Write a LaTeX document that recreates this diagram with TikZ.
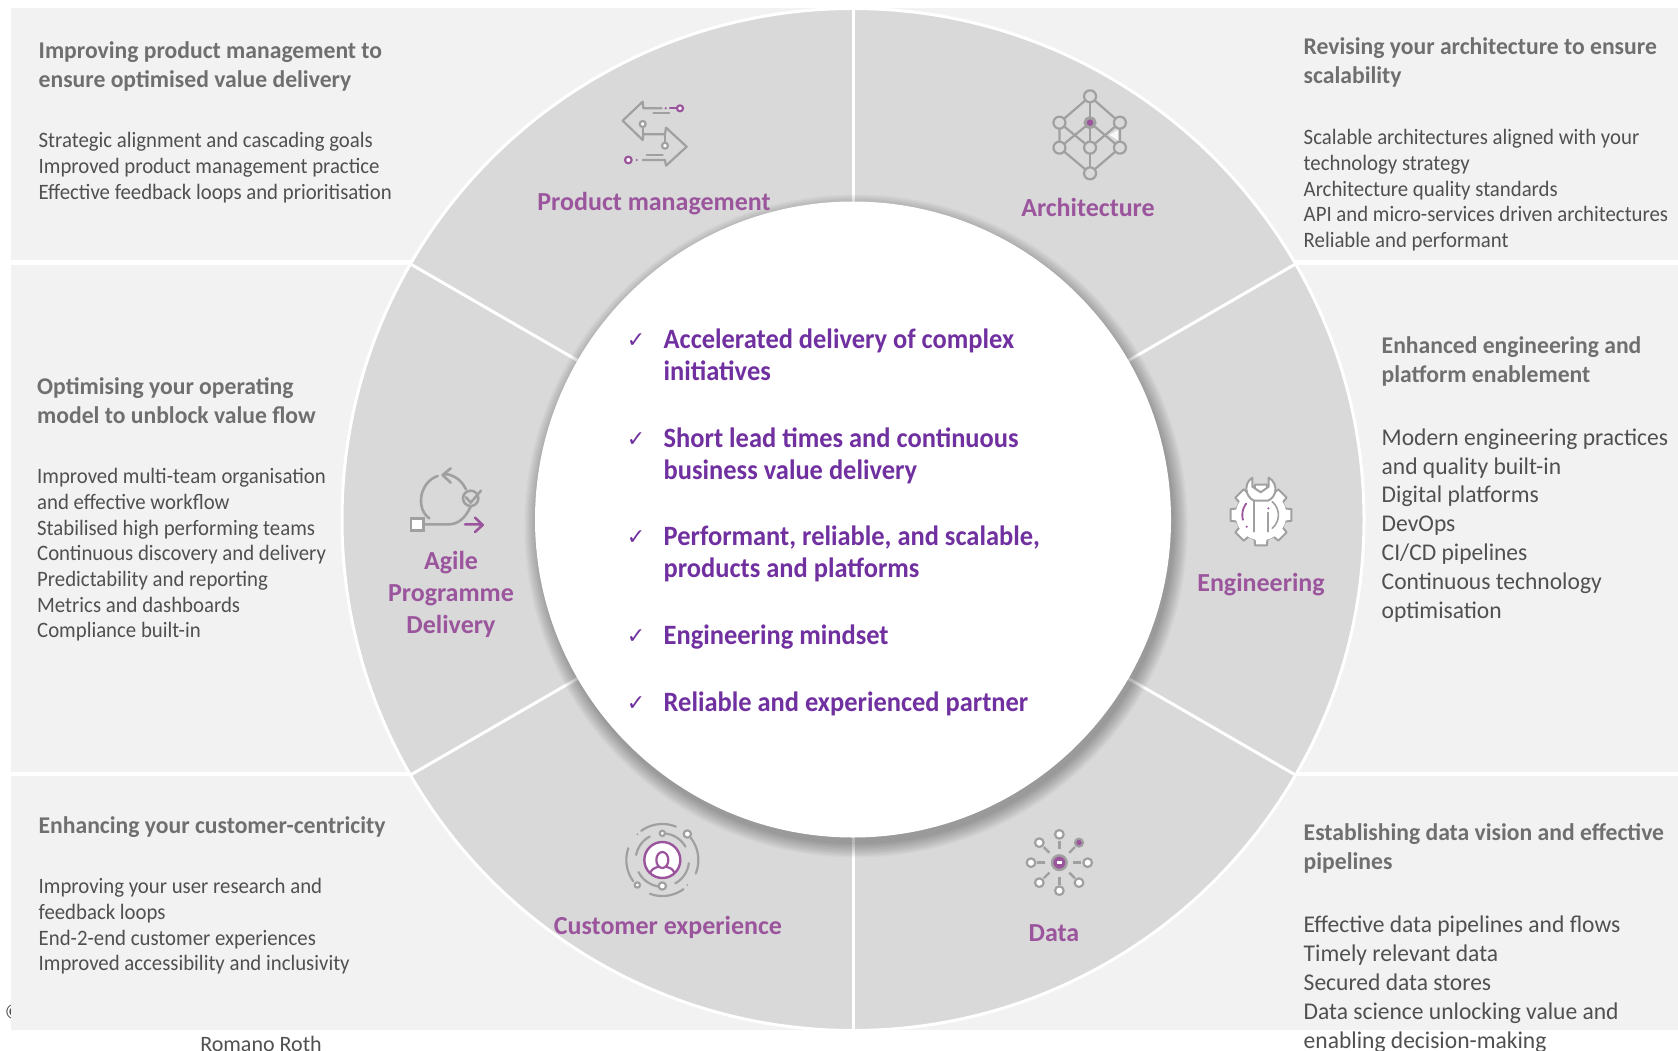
\documentclass[tikz,border=0pt]{standalone}
\usepackage{fontspec}
\setmainfont{Carlito}
\newfontfamily\dejavu{DejaVu Sans}
\newfontfamily\fbody[FakeStretch=0.945]{Carlito}
\newfontfamily\fbig[FakeStretch=0.98]{Carlito}
\newfontfamily\fhead[FakeStretch=0.985]{Carlito}
\newfontfamily\fcent[FakeStretch=0.945]{Carlito}
\definecolor{panel}{HTML}{F2F2F2}
\definecolor{ringc}{HTML}{D9D9D9}
\definecolor{headc}{HTML}{6F6F6F}
\definecolor{bodyc}{HTML}{505050}
\definecolor{plum}{HTML}{9B559D}
\definecolor{deep}{HTML}{7030A0}
\definecolor{icong}{HTML}{A0A0A0}
\newcommand{\garc}[6][]{\draw[#1] plot[domain=#5:#6,samples=24,smooth] ({#2+#4*cos(\x)},{#3+#4*sin(\x)});}
\tikzset{
 headtxt/.style={anchor=north west,inner sep=0pt,align=left,text=headc,font=\fontsize{24}{29}\fhead\bfseries},
 bodytxt/.style={anchor=north west,inner sep=0pt,align=left,text=bodyc,font=\fontsize{22}{25.7}\fbody},
 bodybig/.style={anchor=north west,inner sep=0pt,align=left,text=bodyc,font=\fontsize{24}{28.8}\fbig},
 ringtxt/.style={inner sep=0pt,align=center,text=plum,font=\fontsize{26}{32}\selectfont\bfseries},
 centertxt/.style={anchor=north west,inner sep=0pt,align=left,text=deep,font=\fontsize{28}{32}\fcent\bfseries},
 tick/.style={inner sep=0pt,text=deep,font=\fontsize{22}{24}\dejavu},
 ic/.style={draw=icong,line width=2.2pt,line cap=round,line join=round},
 icp/.style={draw=plum,line width=2.2pt,line cap=round,line join=round},
 panelbox/.style={fill=panel,draw=none},
}
\begin{document}
\begin{tikzpicture}[x=1pt,y=-1pt]
\useasboundingbox (0,0) rectangle (1678,1051);
\fill[white] (0,0) rectangle (1678,1051);
\node[inner sep=0pt,text=bodyc,font=\fontsize{22}{26}\selectfont] (copy) at (14,1012) {©};
\fill[panelbox] (10.7,8.5) rectangle (1678,260);
\fill[panelbox] (10.7,265) rectangle (1678,771.5);
\fill[panelbox] (10.7,776) rectangle (1678,1030);
\coordinate (c) at (853,519.5);
\fill[ringc,draw=white,line width=3pt] (c) circle[radius=511];
\foreach \a in {90,270,30,150,210,330}{\draw[white,line width=3pt] (c) -- ++(\a:511);}
% shadow
\foreach \r in {0,1.5,...,13.5}{\fill[black,opacity=0.033] (856,526) circle[radius=318+\r];}
\fill[white] (c) circle[radius=318];
% panels text
\node[headtxt] (h1) at (38.5,41) {Improving product management to\\ensure optimised value delivery};
\node[bodytxt] (b1) at (38.5,132.3) {Strategic alignment and cascading goals\\Improved product management practice\\Effective feedback loops and prioritisation};
\node[headtxt] (h2) at (1303.5,37) {Revising your architecture to ensure\\scalability};
\node[bodytxt] (b2) at (1303.5,129.3) {Scalable architectures aligned with your\\technology strategy\\Architecture quality standards\\API and micro-services driven architectures\\Reliable and performant};
\node[headtxt] (h3) at (37,377) {Optimising your operating\\model to unblock value flow};
\node[bodytxt] (b3) at (37,468.3) {Improved multi-team organisation\\and effective workflow\\Stabilised high performing teams\\Continuous discovery and delivery\\Predictability and reporting\\Metrics and dashboards\\Compliance built-in};
\node[headtxt] (h4) at (1381.5,336) {Enhanced engineering and\\platform enablement};
\node[bodybig] (b4) at (1381.5,428.5) {Modern engineering practices\\and quality built-in\\Digital platforms\\DevOps\\CI/CD pipelines\\Continuous technology\\optimisation};
\node[headtxt] (h5) at (38.5,816) {Enhancing your customer-centricity};
\node[bodytxt] (b5) at (38.5,878.3) {Improving your user research and\\feedback loops\\End-2-end customer experiences\\Improved accessibility and inclusivity};
\node[headtxt] (h6) at (1303.5,823) {Establishing data vision and effective\\pipelines};
\node[bodybig] (b6) at (1303.5,916) {Effective data pipelines and flows\\Timely relevant data\\Secured data stores\\Data science unlocking value and\\enabling decision-making};
\node[inner sep=0pt,text=bodyc,font=\fontsize{22}{26}\selectfont] (author) at (261,1044) {Romano Roth};
% ring labels
\node[ringtxt] (r1) at (654,204) {Product management};
\node[ringtxt] (r2) at (1088,207) {Architecture};
\node[ringtxt] (r3) at (1261,585) {Engineering};
\node[ringtxt] (r4) at (1054,933) {Data};
\node[ringtxt] (r5) at (668,927) {Customer experience};
\node[ringtxt] (r6) at (451,594) {Agile\\Programme\\Delivery};
% centre
\node[tick] (t1) at (636,341) {✓};
\node[tick] (t2) at (636,440) {✓};
\node[tick] (t3) at (636,538) {✓};
\node[tick] (t4) at (636,637) {✓};
\node[tick] (t5) at (636,704) {✓};
\node[centertxt] (c1) at (663.5,329) {Accelerated delivery of complex\\initiatives};
\node[centertxt] (c2) at (663.5,428) {Short lead times and continuous\\business value delivery};
\node[centertxt] (c3) at (663.5,526) {Performant, reliable, and scalable,\\products and platforms};
\node[centertxt] (c4) at (663.5,625) {Engineering mindset};
\node[centertxt] (c5) at (663.5,692) {Reliable and experienced partner};
% product management icon
\begin{scope}[shift={(620,95)},scale=1/3]
\draw[ic] (125,40) -- (70,40) -- (68,20) -- (8,77) -- (68,135) -- (70,118) -- (135,118) -- (138,98) -- (200,155) -- (138,212) -- (135,195) -- (68,195);
\draw[ic] (100,55) -- (148,55) (80,180) -- (128,180) (68,97) -- (68,118) (135,118) -- (135,142);
\filldraw[ic,fill=white] (68,87) circle[radius=9] (135,152) circle[radius=9];
\draw[icp] (150,40) -- (170,40);
\filldraw[icp,fill=white] (180,40) circle[radius=9] (25,195) circle[radius=10];
\fill[plum] (137,40) circle[radius=3.5] (50,195) circle[radius=3.5];
\end{scope}
% architecture icon
\begin{scope}[shift={(560,60)},xscale=0.3827,yscale=1/3]
\fill[white!85!ringc] (1435,225) -- (1458,210) -- (1458,240) -- cycle;
\draw[ic] (1385,109) -- (1305,188) -- (1305,263) -- (1385,340) -- (1463,263) -- (1463,188) -- cycle;
\draw[ic] (1385,109) -- (1385,340);
\draw[ic] (1305,188) -- (1385,263) -- (1463,188);
\draw[ic] (1305,263) -- (1385,188) -- (1463,263);
\foreach \x/\y in {1385/109,1305/188,1463/188,1305/263,1385/263,1463/263,1385/340}{
 \filldraw[ic,fill=ringc] (\x,\y) ellipse[x radius=15.7,y radius=18];}
\filldraw[draw=icong,line width=3pt,fill=plum] (1385,188) ellipse[x radius=13,y radius=15];
\end{scope}
% agile icon
\begin{scope}[shift={(380,440)},scale=1/3]
\draw[ic,line width=2.6pt] (173,108) .. controls (120,125) and (105,205) .. (148,235);
\draw[ic,line width=2.6pt] (195,102) .. controls (225,105) and (245,122) .. (258,148);
\draw[ic,line width=2.6pt] (272,200) .. controls (255,235) and (235,253) .. (205,253) -- (132,253);
\draw[ic,line width=2.6pt] (212,85) -- (188,105) -- (212,128);
\draw[ic,line width=2.6pt] (272,175) circle[radius=23];
\draw[ic,line width=2.6pt] (258,172) -- (272,188) -- (303,152);
\filldraw[ic,line width=2.6pt,fill=white,line cap=butt,line join=miter] (93,236) rectangle (130,272);
\draw[icp,line width=2.6pt] (255,253) -- (305,253) (285,233) -- (308,255) -- (285,276);
\end{scope}
% engineering icon
\begin{scope}[shift={(1190,460)},scale=1/3]
\begin{scope}[shift={(213,165)}]
\foreach \a in {0,45,...,315}{
 \fill[white] (\a-15:75) -- (\a-11:93) -- (\a+11:93) -- (\a+15:75) -- cycle;
 \draw[ic,line width=2pt] (\a-15:75) -- (\a-11:93) -- (\a+11:93) -- (\a+15:75) -- (\a+30:75);}
\fill[white] (0,0) circle[radius=76];
\end{scope}
\filldraw[ic,line width=2pt,fill=white] (187,53) .. controls (160,70) and (165,110) .. (192,122) -- (234,122) .. controls (262,110) and (265,70) .. (236,53) -- (236,80) -- (212,97) -- (187,80) -- cycle;
\draw[ic,line width=2pt] (192,122) -- (192,215) (235,158) -- (235,215);
\garc[ic,line width=1.6pt]{213}{165}{52}{-50}{50}
\garc[icp,line width=1.8pt]{213}{165}{56}{165}{218}
\fill[plum] (235,145) circle[radius=3.5] (170,200) circle[radius=3.5];
\end{scope}
% customer and data icons
\begin{scope}[shift={(600,800)},scale=1/3]
\foreach \p/\q/\r in {234/292/108,320/382/108,54/110/108,144/199/108,191/242/80,279/330/80,7/61/80,99/153/80}{
 \garc[ic]{187}{180}{\r}{\p}{\q}}
\filldraw[ic,fill=white] (262,102) circle[radius=11] (187,100) circle[radius=8] (112,255) circle[radius=8] (187,258) circle[radius=11];
\fill[icong] (112,103) circle[radius=3] (262,255) circle[radius=3];
\filldraw[icp,fill=white,line width=2.4pt] (187,180) circle[radius=54];
\begin{scope}
\clip (187,180) circle[radius=53];
\draw[icp] (150,228) .. controls (150,205) and (165,205) .. (175,200) (224,228) .. controls (224,205) and (209,205) .. (199,200);
\draw[icp] (187,180) ellipse[x radius=18,y radius=24];
\end{scope}
% data
\foreach \a in {0,45,...,315}{\draw[ic,line width=2.4pt,line cap=butt] (1378,188) ++(\a:42) -- ++(\a:24);}
\foreach \x/\y in {1378/103,1378/272,1293/188,1463/188,1318/128,1318/248,1437/248}{
 \filldraw[ic,fill=white] (\x,\y) circle[radius=13];}
\filldraw[ic,fill=plum] (1437,128) circle[radius=12];
\filldraw[draw=icong,line width=2.4pt,fill=plum] (1378,188) circle[radius=22];
\fill[white] (1370,184) rectangle (1386,192);
\end{scope}
\end{tikzpicture}
\end{document}
